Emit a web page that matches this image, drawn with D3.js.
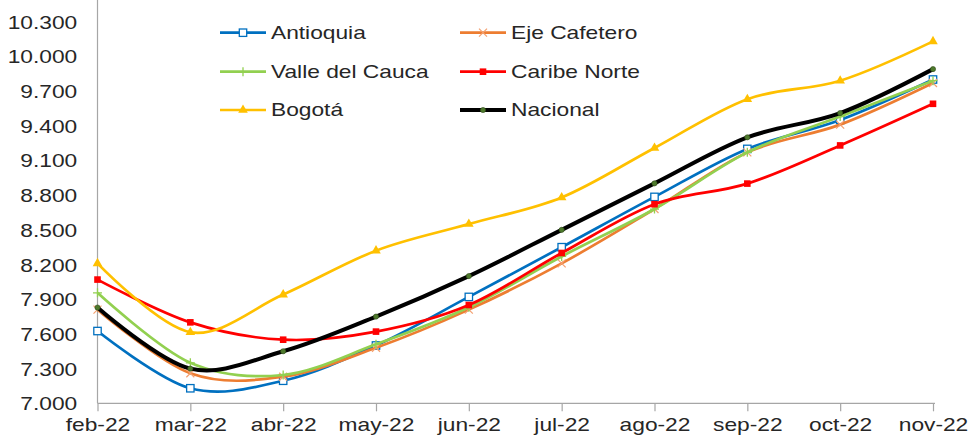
<!DOCTYPE html>
<html>
<head>
<meta charset="utf-8">
<script src="https://cdn.jsdelivr.net/npm/d3@7"></script>
<style>
  body { margin: 0; background: #fff; }
  text { font-family: "Liberation Sans", Arial, sans-serif; fill: #262626; }
</style>
</head>
<body>
<div id="chart"></div>
<script>
// Data
const months = ["feb-22", "mar-22", "abr-22", "may-22", "jun-22", "jul-22", "ago-22", "sep-22", "oct-22", "nov-22"];
const antioquia   = [7625, 7130, 7195, 7500, 7920, 8350, 8785, 9200, 9450, 9800];
const ejeCafetero = [7810, 7260, 7230, 7480, 7810, 8210, 8680, 9170, 9410, 9770];
const valleCauca  = [7955, 7350, 7245, 7510, 7830, 8270, 8680, 9170, 9480, 9790];
const caribeNorte = [8070, 7700, 7550, 7620, 7850, 8300, 8722, 8900, 9230, 9590];
const bogota      = [8210, 7615, 7940, 8320, 8550, 8780, 9208, 9630, 9790, 10130];
const nacional    = [7828, 7300, 7450, 7750, 8100, 8500, 8902, 9300, 9510, 9890];
const yTicks = [7000, 7300, 7600, 7900, 8200, 8500, 8800, 9100, 9400, 9700, 10000, 10300];

const series = [
    {name: "Antioquia", values: antioquia, color: "#0070C0", marker: "openSquare", col: 0, row: 0},
    {name: "Eje Cafetero", values: ejeCafetero, color: "#ED7D31", marker: "cross", col: 1, row: 0},
    {name: "Valle del Cauca", values: valleCauca, color: "#92D050", marker: "plus", col: 0, row: 1},
    {name: "Caribe Norte", values: caribeNorte, color: "#FF0000", marker: "square", col: 1, row: 1},
    {name: "Bogotá", values: bogota, color: "#FFC000", marker: "triangle", col: 0, row: 2},
    {name: "Nacional", values: nacional, color: "#000000", marker: "dot", col: 1, row: 2}
];

const width = 971, height = 435;
const stretch = 1.23;     // text in the reference is a bit wide
const fontSize = "18.5px";

const svg = d3.select("#chart").append("svg")
    .attr("width", width).attr("height", height);

// Scales
const x = d3.scalePoint().domain(months).range([97.5, 933]);
const y = d3.scaleLinear().domain([7000, 10300]).range([403.3, 21.7]);

const locale = d3.formatLocale({decimal: ",", thousands: ".", grouping: [3], currency: ["$", ""]});
const fmt = locale.format(",.0f");

// Axes
const yAxis = svg.append("g")
    .attr("transform", `translate(${x(months[0])},0)`)
    .call(d3.axisLeft(y).tickValues(yTicks).tickFormat(fmt).tickSize(0).tickPadding(0));
yAxis.select(".domain").remove();
yAxis.append("line")
    .attr("y1", 0).attr("y2", y(7000))
    .attr("stroke", "#a6a6a6").attr("stroke-width", 1.2);
yAxis.selectAll(".tick text")
    .attr("x", -16.5)
    .attr("dy", "0.35em")
    .attr("transform", `scale(${stretch},1)`)
    .style("font-size", fontSize)
    .attr("fill", "#262626");

const xAxis = svg.append("g")
    .attr("transform", `translate(0,${y(7000)})`)
    .call(d3.axisBottom(x).tickSize(8).tickSizeOuter(0));
xAxis.select(".domain")
    .attr("stroke", "#a6a6a6").attr("stroke-width", 1.2)
    .attr("d", `M${x(months[0])},0H${x(months[months.length - 1]) + 2}`);
xAxis.selectAll(".tick line").attr("stroke", "#a6a6a6").attr("stroke-width", 1.2);
xAxis.selectAll(".tick text")
    .attr("y", 27.5)
    .attr("dy", 0)
    .attr("transform", `scale(${stretch},1)`)
    .style("font-size", fontSize)
    .attr("fill", "#262626");

// Markers
function drawMarker(g, type, color) {
    if (type === "openSquare") {
        g.append("rect").attr("x", -3.7).attr("y", -3.7).attr("width", 7.4).attr("height", 7.4)
            .attr("fill", "#fff").attr("stroke", color).attr("stroke-width", 1.3);
    } else if (type === "square") {
        g.append("rect").attr("x", -3.3).attr("y", -3.3).attr("width", 6.6).attr("height", 6.6)
            .attr("fill", color);
    } else if (type === "cross") {
        g.append("path").attr("d", "M-4,-4L4,4M-4,4L4,-4")
            .attr("stroke", "#F4A070").attr("stroke-width", 1.2).attr("fill", "none");
    } else if (type === "plus") {
        g.append("path").attr("d", "M-4.5,0H4.5M0,-4.5V4.5")
            .attr("stroke", color).attr("stroke-width", 1.3).attr("fill", "none");
    } else if (type === "triangle") {
        g.append("path").attr("d", d3.symbol(d3.symbolTriangle, 40)())
            .attr("fill", color);
    } else if (type === "dot") {
        g.append("circle").attr("r", 2.6).attr("fill", "#4E7A2C").attr("stroke", "#2f4a1a").attr("stroke-width", 0.6);
    }
}

const line = d3.line()
    .x((d, i) => x(months[i]))
    .y(d => y(d))
    .curve(d3.curveCardinal.tension(0));

// Lines and markers
series.forEach(s => {
    svg.append("path")
        .datum(s.values)
        .attr("fill", "none")
        .attr("stroke", s.color)
        .attr("stroke-width", s.marker === "dot" ? 4 : 2.7)
        .attr("stroke-linejoin", "round")
        .attr("d", line);

    s.values.forEach((v, i) => {
        const g = svg.append("g").attr("transform", `translate(${x(months[i])},${y(v)})`);
        drawMarker(g, s.marker, s.color);
    });
});

// Legend
const legendX = [220, 460];
const legendY = [32.7, 71.7, 110];
series.forEach(s => {
    const lx = legendX[s.col], ly = legendY[s.row];
    const g = svg.append("g").attr("transform", `translate(${lx},${ly})`);
    g.append("line")
        .attr("x1", 0).attr("x2", 46)
        .attr("stroke", s.color)
        .attr("stroke-width", s.marker === "dot" ? 4 : 2.7);
    const m = g.append("g").attr("transform", "translate(23,0)");
    drawMarker(m, s.marker, s.color);
    g.append("text")
        .attr("transform", `translate(51,0) scale(${stretch},1)`)
        .attr("dy", "0.35em")
        .style("font-size", fontSize)
        .text(s.name);
});
</script>
</body>
</html>
